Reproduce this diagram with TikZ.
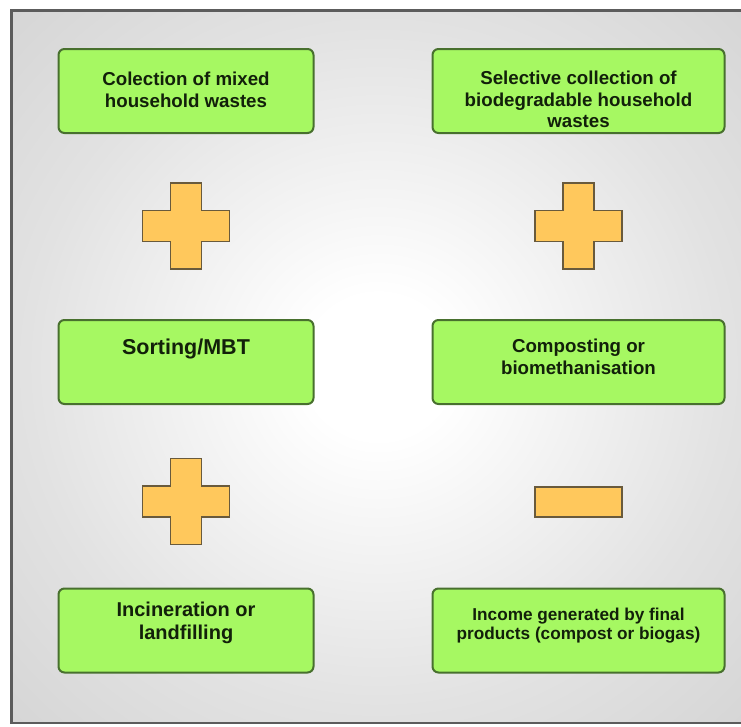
\documentclass[tikz,border=0pt]{standalone}
\usepackage{fontspec}
\setmainfont{Liberation Sans}
\usetikzlibrary{positioning}

\definecolor{boxfill}{RGB}{166,248,98}
\definecolor{boxedge}{RGB}{72,112,46}
\definecolor{boxink}{RGB}{18,32,10}
\definecolor{signfill}{RGB}{255,200,92}
\definecolor{signedge}{RGB}{105,90,60}
\definecolor{frameline}{RGB}{92,92,92}
\definecolor{bgmid}{RGB}{226,226,226}
\definecolor{bgedge}{RGB}{198,198,198}
\definecolor{bgcorner}{RGB}{174,174,174}

\pgfdeclareradialshading{panelshade}{\pgfpointorigin}{color(0bp)=(white); color(5bp)=(white); color(24bp)=(bgmid); color(50bp)=(bgedge); color(72bp)=(bgcorner)}

\begin{document}
\begin{tikzpicture}[
    x=1pt, y=-1pt,
    panel/.style={draw=frameline, line width=2.5pt, shade, shading=panelshade},
    wastebox/.style={rectangle, rounded corners=6pt, draw=boxedge, fill=boxfill, line width=2pt, minimum width=255pt, minimum height=84pt},
    widebox/.style={wastebox, minimum width=292pt},
    boxtext/.style={inner sep=0pt, align=center, text=boxink, font=\bfseries\fontsize{18.7}{21.5}\selectfont},
    signbar/.style={rectangle, draw=signedge, fill=signfill, line width=1.6pt, minimum width=87pt, minimum height=30pt},
    plussign/.pic={
        \draw[draw=signedge, fill=signfill, line width=1.6pt]
            (-15.5,-43) -- (15.5,-43) -- (15.5,-15.5) -- (43.5,-15.5) -- (43.5,15.5) -- (15.5,15.5)
            -- (15.5,43) -- (-15.5,43) -- (-15.5,15.5) -- (-43.5,15.5) -- (-43.5,-15.5) -- (-15.5,-15.5) -- cycle;
    }
]

\useasboundingbox (0,0) rectangle (741,726);
\clip (0,0) rectangle (741,726);

% Panel
\draw[panel] (11.5,10.5) rectangle (745,723);

% Left column
\node (mixed) [wastebox] at (186,91) {};
\coordinate[below=92pt of mixed] (plusA);
\node (sorting) [wastebox, below=185pt of mixed] {};
\coordinate[below=96.5pt of sorting] (plusB);
\node (burning) [wastebox, below=182.5pt of sorting] {};

% Right column
\node (selective) [widebox, right=117pt of mixed] {};
\coordinate[below=92pt of selective] (plusC);
\node (composting) [widebox, below=185pt of selective] {};
\node (minus) [signbar, below=81pt of composting] {};
\node (income) [widebox, below=182.5pt of composting] {};

% Texts
\node (mixedtext) [boxtext, below=24pt of mixed.north] {Colection of mixed\\household wastes};
\node (selectivetext) [boxtext, below=23pt of selective.north] {Selective collection of\\biodegradable household\\wastes};
\node (sortingtext) [boxtext, below=20pt of sorting.north, font=\bfseries\fontsize{21.5}{24}\selectfont] {Sorting/MBT};
\node (compostingtext) [boxtext, below=20pt of composting.north] {Composting or\\biomethanisation};
\node (burningtext) [boxtext, below=14pt of burning.north, font=\bfseries\fontsize{20}{23}\selectfont] {Incineration or\\landfilling};
\node (incometext) [boxtext, below=20pt of income.north, font=\bfseries\fontsize{17.2}{19.5}\selectfont] {Income generated by final\\products (compost or biogas)};

% Signs
\pic at (plusA) {plussign};
\pic at (plusB) {plussign};
\pic at (plusC) {plussign};

\end{tikzpicture}
\end{document}
